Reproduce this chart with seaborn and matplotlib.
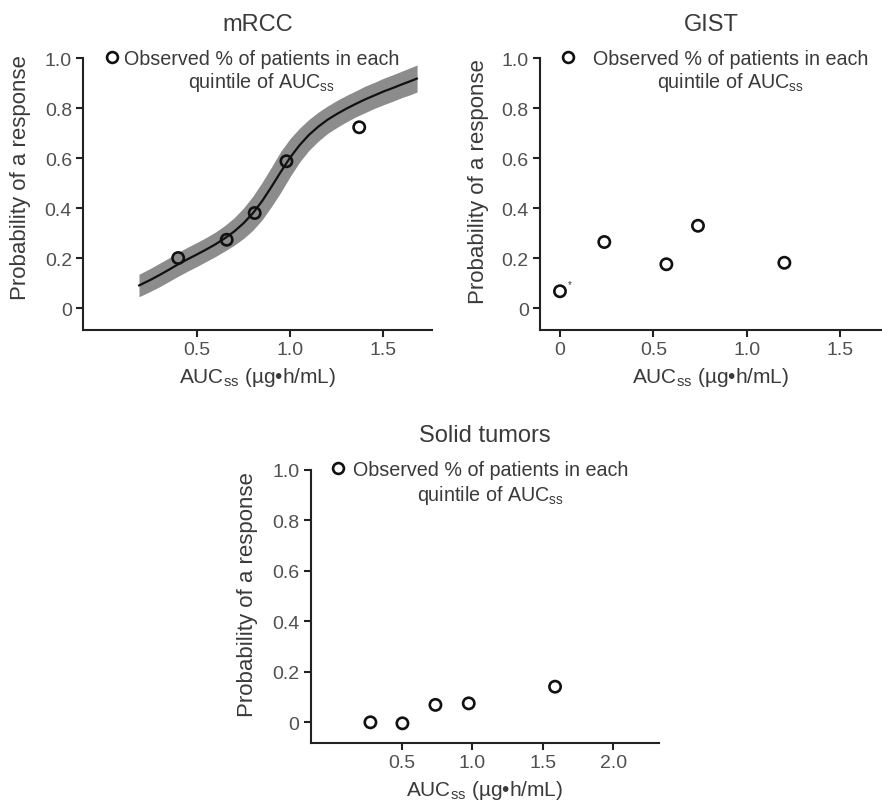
import matplotlib
matplotlib.use("Agg")
import matplotlib.pyplot as plt
import seaborn as sns
import pandas as pd
from matplotlib.lines import Line2D

# ---------------- data ----------------
mrcc_obs_x = [0.40, 0.66, 0.81, 0.98, 1.37]
mrcc_obs_y = [0.20, 0.273, 0.38, 0.587, 0.723]

mrcc_curve_x = [0.19, 0.25, 0.30, 0.35, 0.40, 0.45, 0.50, 0.55, 0.60, 0.65,
                0.70, 0.75, 0.80, 0.85, 0.90, 0.95, 1.00, 1.05, 1.10, 1.15,
                1.20, 1.25, 1.30, 1.35, 1.40, 1.45, 1.50, 1.55, 1.60, 1.65, 1.68]
mrcc_curve_y = [0.090, 0.112, 0.132, 0.153, 0.175, 0.195, 0.214, 0.234, 0.255, 0.279,
                0.306, 0.339, 0.379, 0.428, 0.485, 0.545, 0.602, 0.651, 0.692, 0.725,
                0.753, 0.776, 0.797, 0.816, 0.834, 0.850, 0.866, 0.880, 0.895, 0.909, 0.918]
mrcc_lower = [0.045, 0.066, 0.085, 0.106, 0.127, 0.147, 0.166, 0.186, 0.206, 0.228,
              0.251, 0.278, 0.311, 0.353, 0.406, 0.463, 0.526, 0.583, 0.630, 0.667,
              0.698, 0.722, 0.744, 0.764, 0.781, 0.798, 0.813, 0.827, 0.842, 0.855, 0.864]
mrcc_upper = [0.135, 0.158, 0.179, 0.200, 0.223, 0.243, 0.262, 0.282, 0.304, 0.330,
              0.361, 0.400, 0.447, 0.503, 0.564, 0.627, 0.678, 0.719, 0.754, 0.783,
              0.808, 0.830, 0.850, 0.868, 0.887, 0.902, 0.919, 0.933, 0.948, 0.963, 0.972]

gist_obs_x = [0.0, 0.237, 0.569, 0.738, 1.20]
gist_obs_y = [0.067, 0.264, 0.175, 0.329, 0.181]

solid_obs_x = [0.278, 0.505, 0.739, 0.975, 1.587]
solid_obs_y = [0.0, -0.004, 0.069, 0.075, 0.141]

y_ticks = [0, 0.2, 0.4, 0.6, 0.8, 1.0]
y_ticklabels = ["0", "0.2", "0.4", "0.6", "0.8", "1.0"]
mrcc_xticks = [0.5, 1.0, 1.5]
gist_xticks = [0, 0.5, 1.0, 1.5]
solid_xticks = [0.5, 1.0, 1.5, 2.0]

titles = ["mRCC", "GIST", "Solid tumors"]
ylabel = "Probability of a response"
xlabel = r"AUC$_{\mathregular{ss}}$ (µg•h/mL)"
legend_line1 = "Observed % of patients in each"
legend_line2 = r"quintile of AUC$_{\mathregular{ss}}$"

# ---------------- style ----------------
sns.set_theme(style="ticks")
plt.rcParams["font.family"] = ["Liberation Sans", "DejaVu Sans"]
plt.rcParams["mathtext.fontset"] = "custom"
plt.rcParams["mathtext.rm"] = "Liberation Sans"
plt.rcParams["mathtext.it"] = "Liberation Sans"

TEXT = "#3a3a3a"
TICKTXT = "#505050"
SPINE = "#222222"
BAND = "#8c8c8c"
LEGFS = 14.2

fig = plt.figure(figsize=(8.82, 8.04), dpi=100)
ax1 = fig.add_axes([0.0941, 0.5883, 0.3957, 0.3383])
ax2 = fig.add_axes([0.6122, 0.5883, 0.3878, 0.3383])
ax3 = fig.add_axes([0.3523, 0.0746, 0.3949, 0.3399])


def style_axes(ax, xlim, ylim, xticks, title, ylab_y):
    ax.set_xlim(*xlim)
    ax.set_ylim(*ylim)
    ax.set_xticks(xticks)
    ax.set_xticklabels([("0" if v == 0 else f"{v:.1f}") for v in xticks])
    ax.set_yticks(y_ticks)
    ax.set_yticklabels(y_ticklabels)
    for s in ["top", "right"]:
        ax.spines[s].set_visible(False)
    for s in ["left", "bottom"]:
        ax.spines[s].set_linewidth(1.5)
        ax.spines[s].set_color(SPINE)
    ax.tick_params(axis="both", length=5, width=1.5, color=SPINE,
                   labelsize=14, labelcolor=TICKTXT, pad=3)
    ax.set_xlabel(xlabel, fontsize=15, color=TEXT)
    ax.set_ylabel(ylabel, fontsize=16, color=TEXT)
    ax.xaxis.set_label_coords(0.5, -0.128)
    ax.yaxis.set_label_coords(-0.15, ylab_y)
    ax.set_title(title, fontsize=17, color=TEXT, pad=20.5)
    ax.set_facecolor("white")


def add_legend(ax, x_frac, pad, line2_y):
    h = Line2D([], [], marker="o", linestyle="none", markersize=7.8,
               markerfacecolor="none", markeredgecolor="#111111",
               markeredgewidth=1.9)
    leg = ax.legend([h], [legend_line1], loc="center left",
                    bbox_to_anchor=(x_frac, 1.0), frameon=False,
                    fontsize=LEGFS, handletextpad=pad, handlelength=0.6,
                    borderaxespad=0, borderpad=0)
    for t in leg.get_texts():
        t.set_color(TEXT)
    fig.canvas.draw()
    bb = leg.get_texts()[0].get_window_extent()
    cx, _ = ax.transAxes.inverted().transform(((bb.x0 + bb.x1) / 2, bb.y0))
    ax.text(cx, line2_y, legend_line2, transform=ax.transAxes, ha="center",
            va="center", fontsize=LEGFS, color=TEXT)
    return leg


def scatter(ax, xs, ys):
    df = pd.DataFrame({"x": xs, "y": ys})
    sns.scatterplot(data=df, x="x", y="y", ax=ax, marker="o", s=66,
                    facecolors="none", edgecolor="#111111", linewidth=1.9,
                    zorder=5, legend=False)


# ---- mRCC ----
band = pd.DataFrame({"x": mrcc_curve_x, "lo": mrcc_lower, "hi": mrcc_upper,
                     "y": mrcc_curve_y})
ax1.fill_between(band["x"], band["lo"], band["hi"], color=BAND, lw=0, zorder=2)
sns.lineplot(data=band, x="x", y="y", ax=ax1, color="#111111", lw=1.6,
             zorder=3, sort=True)
scatter(ax1, mrcc_obs_x, mrcc_obs_y)
style_axes(ax1, (-0.11, 1.76), (-0.088, 1.0), mrcc_xticks, titles[0], 0.565)
add_legend(ax1, 0.066, 0.32, 0.915)

# ---- GIST ----
scatter(ax2, gist_obs_x, gist_obs_y)
ax2.text(0.053, 0.096, "*", fontsize=7, color=TEXT, ha="center", va="center")
style_axes(ax2, (-0.107, 1.722), (-0.088, 1.0), gist_xticks, titles[1], 0.55)
add_legend(ax2, 0.064, 0.99, 0.915)

# ---- Solid tumors ----
scatter(ax3, solid_obs_x, solid_obs_y)
style_axes(ax3, (-0.145, 2.324), (-0.082, 1.0), solid_xticks, titles[2], 0.547)
add_legend(ax3, 0.062, 0.46, 0.911)

fig.savefig("out.png", dpi=100, facecolor="white")
